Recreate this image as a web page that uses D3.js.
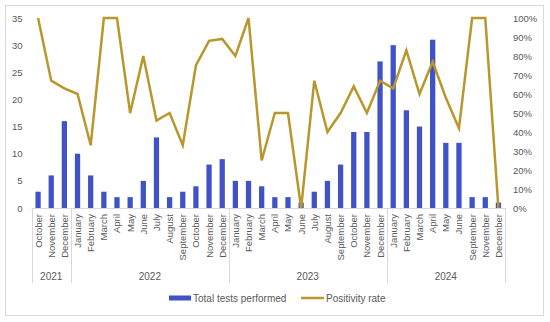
<!DOCTYPE html>
<html>
<head>
<meta charset="utf-8">
<script src="https://cdn.jsdelivr.net/npm/d3@7"></script>
<style>
  body { margin: 0; background: #fff; }
  text { font-family: "Liberation Sans", Arial, sans-serif; fill: #595959; }
</style>
</head>
<body>
<svg id="chart" width="550" height="322"></svg>
<script>
// data
const yearLabels = ["2021", "2022", "2023", "2024"];
const monthsPerYear = [3, 12, 12, 9];
const monthLabels = [
  "October", "November", "December",
  "January", "February", "March", "April", "May", "June", "July", "August", "September", "October", "November", "December",
  "January", "February", "March", "April", "May", "June", "July", "August", "September", "October", "November", "December",
  "January", "February", "March", "April", "May", "June", "September", "November", "December"
];
const tests = [
  3, 6, 16,
  10, 6, 3, 2, 2, 5, 13, 2, 3, 4, 8, 9,
  5, 5, 4, 2, 2, 1, 3, 5, 8, 14, 14, 27,
  30, 18, 15, 31, 12, 12, 2, 2, 1
];
const positivity = [
  100, 67, 63,
  60, 33, 100, 100, 50, 80, 46, 50, 33, 75, 88, 89,
  80, 100, 25, 50, 50, 0, 67, 40, 50, 64, 50, 67,
  63, 83, 60, 77, 58, 42, 100, 100, 0
];
const leftTicks = [0, 5, 10, 15, 20, 25, 30, 35];
const rightTicks = [0, 10, 20, 30, 40, 50, 60, 70, 80, 90, 100];

const svg = d3.select("#chart");
const W = 550, H = 322;
const plot = { left: 31.5, right: 505, top: 18, bottom: 208 };

const barColor = "#4052c5";
const lineColor = "#b8972c";

// outer frame
svg.append("rect")
  .attr("x", 5.5).attr("y", 5.5)
  .attr("width", 538).attr("height", 310)
  .attr("fill", "none").attr("stroke", "#d9d9d9");

const idx = d3.range(monthLabels.length);

let x = d3.scaleBand()
  .domain(idx)
  .range([plot.left, plot.right])
  .padding(0);

let yLeft = d3.scaleLinear().domain([0, 35]).range([plot.bottom, plot.top]);
let yRight = d3.scaleLinear().domain([0, 100]).range([plot.bottom, plot.top]);

// left axis
let leftAxis = svg.append("g")
  .attr("transform", `translate(${plot.left},0)`)
  .call(d3.axisLeft(yLeft).tickValues(leftTicks).tickSize(0).tickPadding(9));
leftAxis.select(".domain").remove();
leftAxis.selectAll("text").style("font-size", "9.5px").style("font-family", "Liberation Sans, Arial, sans-serif").attr("fill", "#595959");

// right axis
let rightAxis = svg.append("g")
  .attr("transform", `translate(${plot.right},0)`)
  .call(d3.axisRight(yRight).tickValues(rightTicks).tickSize(0).tickPadding(8)
    .tickFormat(d => d + "%"));
rightAxis.select(".domain").remove();
rightAxis.selectAll("text").style("font-size", "9.5px").style("font-family", "Liberation Sans, Arial, sans-serif").attr("fill", "#595959");

// bars
let barW = x.bandwidth() * 0.4;
svg.append("g").selectAll("rect")
  .data(tests)
  .join("rect")
  .attr("x", (d, i) => x(i) + (x.bandwidth() - barW) / 2)
  .attr("y", d => yLeft(d))
  .attr("width", barW)
  .attr("height", d => yLeft(0) - yLeft(d))
  .attr("fill", barColor);

// baseline
svg.append("line")
  .attr("x1", plot.left).attr("x2", plot.right)
  .attr("y1", plot.bottom + 0.5).attr("y2", plot.bottom + 0.5)
  .attr("stroke", "#d9d9d9");

// positivity line
let line = d3.line()
  .x((d, i) => x(i) + x.bandwidth() / 2)
  .y(d => yRight(d));

svg.append("path")
  .datum(positivity)
  .attr("d", line)
  .attr("fill", "none")
  .attr("stroke", lineColor)
  .attr("stroke-width", 2.5)
  .attr("stroke-linejoin", "miter");

// month labels, rotated
svg.append("g").selectAll("text")
  .data(monthLabels)
  .join("text")
  .attr("transform", (d, i) => `translate(${x(i) + x.bandwidth() / 2 + 3.5},${plot.bottom + 6}) rotate(-90)`)
  .attr("text-anchor", "end")
  .style("font-size", "9.5px")
  .text(d => d);

// year groups
let starts = [];
let acc = 0;
monthsPerYear.forEach(n => { starts.push(acc); acc += n; });

let sepX = starts.map(s => x(s)).concat([plot.right]);
svg.append("g").selectAll("line")
  .data(sepX)
  .join("line")
  .attr("x1", d => Math.round(d) + 0.5).attr("x2", d => Math.round(d) + 0.5)
  .attr("y1", plot.bottom).attr("y2", 283)
  .attr("stroke", "#d9d9d9");

svg.append("g").selectAll("text")
  .data(yearLabels)
  .join("text")
  .attr("x", (d, i) => (x(starts[i]) + x(starts[i] + monthsPerYear[i] - 1) + x.bandwidth()) / 2)
  .attr("y", 280)
  .attr("text-anchor", "middle")
  .style("font-size", "10px")
  .text(d => d);

// legend
let legend = svg.append("g");
legend.append("rect")
  .attr("x", 169).attr("y", 295.5)
  .attr("width", 22).attr("height", 5)
  .attr("fill", barColor);
legend.append("text")
  .attr("x", 193).attr("y", 301.5)
  .style("font-size", "10px")
  .text("Total tests performed");
legend.append("line")
  .attr("x1", 301).attr("x2", 324)
  .attr("y1", 298).attr("y2", 298)
  .attr("stroke", lineColor).attr("stroke-width", 2.5);
legend.append("text")
  .attr("x", 326).attr("y", 301.5)
  .style("font-size", "10px")
  .text("Positivity rate");
</script>
</body>
</html>
